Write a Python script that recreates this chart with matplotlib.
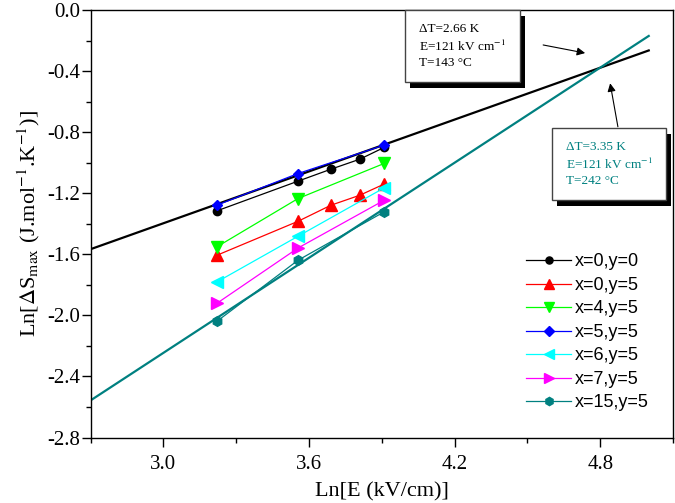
import numpy as np
import matplotlib
matplotlib.use('Agg')
import matplotlib.pyplot as plt
from matplotlib.patches import Rectangle
from matplotlib.ticker import MultipleLocator, FormatStrFormatter

plt.rcParams.update({
    'font.family': 'serif',
    'font.serif': ['Liberation Serif', 'DejaVu Serif'],
    'mathtext.fontset': 'stix',
    'axes.unicode_minus': False,
})

# Ln[E] values of the measured fields
ln_e5 = [3.22, 3.555, 3.69, 3.81, 3.91]
ln_e3 = [3.22, 3.555, 3.91]

# Ln[dS_max] per composition
s_x0y0 = [-1.316, -1.121, -1.043, -0.977, -0.900]
s_x0y5 = [-1.607, -1.384, -1.279, -1.213, -1.140]
s_x4y5 = [-1.552, -1.235, -1.005]
s_x5y5 = [-1.279, -1.071, -0.885]
s_x6y5 = [-1.782, -1.482, -1.165]
s_x7y5 = [-1.922, -1.559, -1.246]
s_x15y5 = [-2.040, -1.639, -1.322]

labels = ['x=0,y=0', 'x=0,y=5', 'x=4,y=5', 'x=5,y=5',
          'x=6,y=5', 'x=7,y=5', 'x=15,y=5']

# linear extrapolations (slope, intercept)
fit_range = [2.6, 5.0]
fit_black = (0.566, -3.095)
fit_teal = (1.038, -5.360)

teal = '#008080'

fig = plt.figure(figsize=(6.75, 5.03), dpi=100)
ax = fig.add_axes([90.5 / 675, 1 - 437.5 / 503, 582.5 / 675, 427.5 / 503])

fx = np.array(fit_range)
ax.plot(fx, fit_black[1] + fit_black[0] * fx, color='k', lw=1.6, zorder=2)
ax.plot(fx, fit_teal[1] + fit_teal[0] * fx, color=teal, lw=1.6, zorder=2)

series = [
    (ln_e5, s_x0y0, 'k', 'o', 6),
    (ln_e5, s_x0y5, '#ff0000', '^', 8),
    (ln_e3, s_x4y5, '#00ff00', 'v', 8),
    (ln_e3, s_x5y5, '#0000ff', 'D', 5.5),
    (ln_e3, s_x6y5, '#00ffff', '<', 8),
    (ln_e3, s_x7y5, '#ff00ff', '>', 8),
    (ln_e3, s_x15y5, teal, 'h', 7),
]
for (xs, ys, c, m, ms), lab in zip(series, labels):
    ax.plot(xs, ys, color=c, marker=m, ms=ms, lw=0.9, mec=c, mfc=c,
            label=lab, zorder=3)

ax.set_xlim(2.7, 5.1)
ax.set_ylim(-2.8, 0.0)
ax.xaxis.set_major_locator(MultipleLocator(0.6))
ax.xaxis.set_minor_locator(MultipleLocator(0.3))
ax.yaxis.set_major_locator(MultipleLocator(0.4))
ax.yaxis.set_minor_locator(MultipleLocator(0.2))
ax.xaxis.set_major_formatter(FormatStrFormatter('%.1f'))
ax.yaxis.set_major_formatter(FormatStrFormatter('%.1f'))
ax.tick_params(which='both', direction='out', top=False, right=False,
               width=1.0, labelsize=15)
ax.tick_params(which='major', length=6.5)
ax.tick_params(which='minor', length=3.6)
ax.tick_params(axis='x', which='major', pad=6)
ax.tick_params(axis='y', which='major', pad=1)
for sp in ax.spines.values():
    sp.set_linewidth(1.0)

ax.set_xlabel('Ln[E (kV/cm)]', fontsize=16, labelpad=6)
ax.set_ylabel(r'Ln[$\Delta$S$_{\mathrm{max}}$ (J.mol$^{\mathrm{-1}}$.K$^{\mathrm{-1}}$)]',
              fontsize=16, labelpad=4)

leg = ax.legend(loc='center left', bbox_to_anchor=(0.748, 0.246), frameon=False,
                borderpad=0, borderaxespad=0, handlelength=2.5, handletextpad=0.2,
                labelspacing=0.36, markerscale=0.85,
                prop={'family': 'Liberation Sans', 'size': 13})

# annotation boxes with drop shadows
dx, dy = 5 / 582.5, 6 / 427.5
boxes = [
    (0.540, 0.8316, 0.197, 0.1684, 'k',
     '\u0394T=2.66 K\nE=121 kV cm$^{-1}$\nT=143 \u00b0C'),
    (0.7931, 0.5556, 0.1957, 0.1684, teal,
     '\u0394T=3.35 K\nE=121 kV cm$^{-1}$\nT=242 \u00b0C'),
]
for x0, y0, w, h, tc, txt in boxes:
    ax.add_patch(Rectangle((x0 + dx, y0 - dy), w, h, transform=ax.transAxes,
                           fc='k', ec='k', lw=0, clip_on=False, zorder=5))
    ax.add_patch(Rectangle((x0, y0), w, h, transform=ax.transAxes,
                           fc='w', ec='#444444', lw=1.0, clip_on=False, zorder=6))
    ax.text(x0 + 14 / 582.5, y0 + h / 2, txt, transform=ax.transAxes,
            ha='left', va='center', fontsize=9.5, color=tc, linespacing=1.35,
            zorder=7)

arrow = dict(arrowstyle='-|>', color='k', lw=0.8, mutation_scale=12,
             shrinkA=0, shrinkB=0)
ax.annotate('', xy=(4.738, -0.282), xytext=(4.565, -0.229), arrowprops=arrow)
ax.annotate('', xy=(4.841, -0.480), xytext=(4.873, -0.765), arrowprops=arrow)

fig.savefig('out.png', dpi=100)
